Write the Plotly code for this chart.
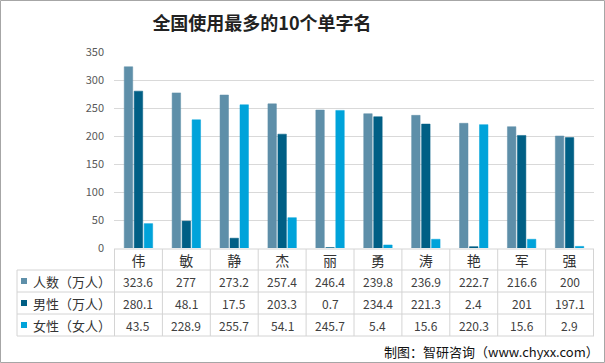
import plotly.graph_objects as go

categories = ["伟", "敏", "静", "杰", "丽", "勇", "涛", "艳", "军", "强"]
series_names = ["人数（万人）", "男性（万人）", "女性（女人）"]
total = [323.6, 277, 273.2, 257.4, 246.4, 239.8, 236.9, 222.7, 216.6, 200]
male = [280.1, 48.1, 17.5, 203.3, 0.7, 234.4, 221.3, 2.4, 201, 197.1]
female = [43.5, 228.9, 255.7, 54.1, 245.7, 5.4, 15.6, 220.3, 15.6, 2.9]
colors = ["#5e8fa9", "#005f85", "#00a3da"]
y_ticks = [0, 50, 100, 150, 200, 250, 300, 350]

W, H = 605, 363
L, R, T, B = 114, 11, 52, 115
PW, PH = W - L - R, H - T - B
FONT = "Noto Sans CJK SC"


def px_x(px):
    return (px - L) / PW


def px_y(py):
    return (H - B - py) / PH


fig = go.Figure()
series = [total, male, female]
for name, vals, col in zip(series_names, series, colors):
    fig.add_trace(go.Bar(
        x=categories, y=vals, name=name,
        marker=dict(color=col, line=dict(color=col, width=0.5)),
        hoverinfo="x+y+name",
    ))

shapes = []
annotations = []
line_col = "#d4d4d4"

# table horizontal lines
row_lines = [249, 270, 292, 314, 336]
for i, py in enumerate(row_lines):
    x0 = px_x(114) if i == 0 else px_x(17)
    shapes.append(dict(type="line", xref="paper", yref="paper",
                       x0=x0, x1=1, y0=px_y(py), y1=px_y(py),
                       line=dict(color=line_col, width=1)))
# vertical lines at category boundaries
for i in range(len(categories) + 1):
    shapes.append(dict(type="line", xref="x", yref="paper",
                       x0=i - 0.5, x1=i - 0.5, y0=px_y(249), y1=px_y(336),
                       line=dict(color=line_col, width=1)))
# left edge of legend column
shapes.append(dict(type="line", xref="paper", yref="paper",
                   x0=px_x(17), x1=px_x(17), y0=px_y(270), y1=px_y(336),
                   line=dict(color=line_col, width=1)))

row_centers = [281, 303, 325]
for r, (name, vals, col) in enumerate(zip(series_names, series, colors)):
    yc = row_centers[r]
    shapes.append(dict(type="rect", xref="paper", yref="paper",
                       x0=px_x(21), x1=px_x(27), y0=px_y(yc - 3), y1=px_y(yc + 3),
                       fillcolor=col, line=dict(width=0)))
    annotations.append(dict(xref="paper", yref="paper", x=px_x(31), y=px_y(yc),
                            text=name, showarrow=False, xanchor="left", yanchor="middle",
                            font=dict(family=FONT, size=13, color="#333333")))
    for c, v in zip(categories, vals):
        annotations.append(dict(xref="x", yref="paper", x=c, y=px_y(yc),
                                text=f"{v:g}", showarrow=False, xanchor="center",
                                yanchor="middle",
                                font=dict(family=FONT, size=12, color="#404040")))

# footer
annotations.append(dict(xref="paper", yref="paper", x=px_x(601), y=px_y(351),
                        text="制图：智研咨询（www.chyxx.com）", showarrow=False,
                        xanchor="right", yanchor="middle",
                        font=dict(family=FONT, size=13, color="#111111")))

# outer frame
shapes.append(dict(type="rect", xref="paper", yref="paper",
                   x0=px_x(0.5), x1=px_x(604.5), y0=px_y(0.5), y1=px_y(362.5),
                   line=dict(color="#a6a6a6", width=1), fillcolor="rgba(0,0,0,0)"))

fig.update_layout(
    width=W, height=H, autosize=False,
    margin=dict(l=L, r=R, t=T, b=B),
    paper_bgcolor="white", plot_bgcolor="white",
    barmode="group", bargap=0.375, bargroupgap=0.15,
    showlegend=False,
    title=dict(text="<b>全国使用最多的10个单字名</b>", xref="container", x=262 / W,
               xanchor="center", yref="container", y=1 - 24 / H, yanchor="middle",
               font=dict(family=FONT, size=18, color="#222222")),
    font=dict(family=FONT),
    shapes=shapes,
    annotations=annotations,
)
fig.update_xaxes(showgrid=False, showline=False, ticks="",
                 tickfont=dict(family=FONT, size=14, color="#333333"),
                 ticklabelstandoff=3)
fig.update_yaxes(range=[0, 350], tickvals=y_ticks, showgrid=True, gridcolor="#d9d9d9",
                 gridwidth=1, zeroline=False, showline=False,
                 tickfont=dict(family=FONT, size=11, color="#595959"),
                 ticklabelstandoff=9)

fig.write_html(
    "out.html",
    config={"displayModeBar": False},
    post_script="document.body.style.margin='0';document.body.style.overflow='hidden';",
)
